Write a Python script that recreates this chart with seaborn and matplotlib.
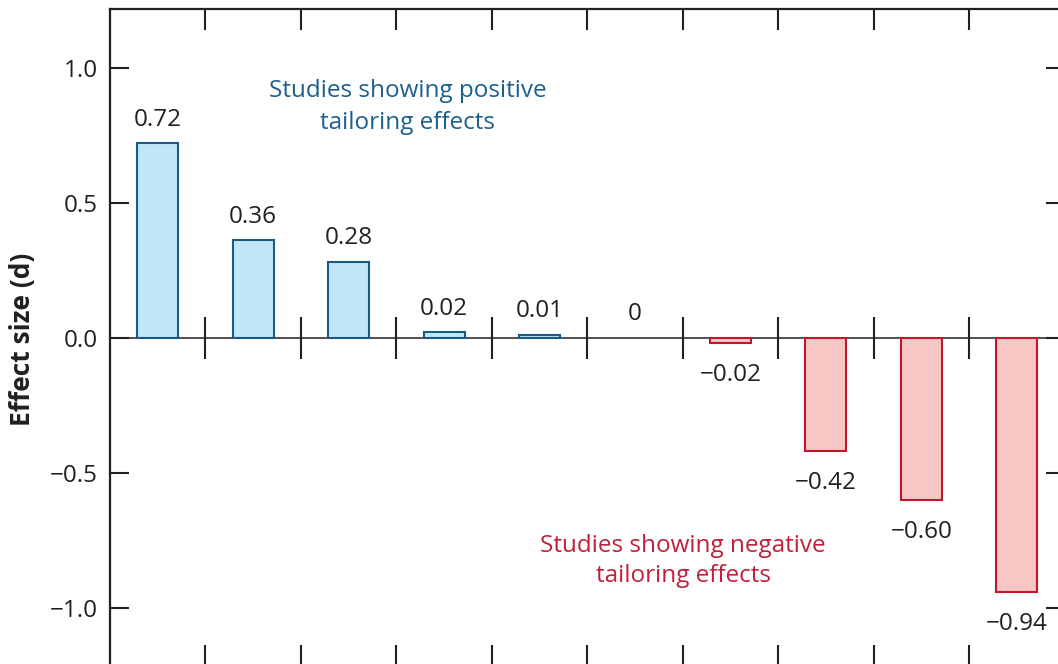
import matplotlib
matplotlib.use("Agg")
import matplotlib.pyplot as plt
import seaborn as sns
import numpy as np
import pandas as pd

# Effect sizes (one bar per study)
studies = ["S1", "S2", "S3", "S4", "S5", "S6", "S7", "S8", "S9", "S10"]
effects = [0.72, 0.36, 0.28, 0.02, 0.01, 0.0, -0.02, -0.42, -0.60, -0.94]
value_labels = ["0.72", "0.36", "0.28", "0.02", "0.01", "0",
                "\u22120.02", "\u22120.42", "\u22120.60", "\u22120.94"]
ytick_vals = [-1.0, -0.5, 0.0, 0.5, 1.0]
ytick_labels = ["\u22121.0", "\u22120.5", "0.0", "0.5", "1.0"]

sns.set_style("ticks")
plt.rcParams["font.family"] = ["Open Sans", "DejaVu Sans"]

dark = "#231f20"
blue_edge, blue_fill, blue_text = "#1a5b82", "#c2e6f7", "#1d5f8c"
red_edge, red_fill, red_text = "#c0172e", "#f6c7c5", "#c11f3a"
fs = 17.5

df = pd.DataFrame({"study": studies, "effect": effects})
df["sign"] = np.where(df["effect"] >= 0, "pos", "neg")

fig = plt.figure(figsize=(10.58, 6.64), dpi=100)
ax = fig.add_axes([0.104, -0.003, 0.9022, 0.9887])

sns.barplot(data=df, x="study", y="effect", hue="sign",
            palette={"pos": blue_fill, "neg": red_fill},
            width=0.43, legend=False, ax=ax, saturation=1)

for patch, val in zip(ax.patches, df["effect"]):
    patch.set_edgecolor(blue_edge if val >= 0 else red_edge)
    patch.set_linewidth(1.5 if val != 0 else 0)

ylo, yhi = -1.215, 1.215
ax.set_ylim(ylo, yhi)
ax.set_xlim(-0.5, len(studies) - 0.5)

# value labels
for i, (val, lab) in enumerate(zip(effects, value_labels)):
    off = 17 if val >= 0 else -23
    ax.annotate(lab, (i, val), xytext=(0, off), textcoords="offset points",
                ha="center", va="center", fontsize=fs, color=dark)

# group annotations
ax.text(2.617, 0.854, "Studies showing positive\ntailoring effects",
        ha="center", va="center", fontsize=fs, color=blue_text, linespacing=1.42)
ax.text(5.503, -0.826, "Studies showing negative\ntailoring effects",
        ha="center", va="center", fontsize=fs, color=red_text, linespacing=1.35)

# axes styling
bounds = np.arange(0.5, len(studies) - 0.5, 1.0)
ax.set_xticks(bounds)
ax.set_xticklabels([])
ax.tick_params(axis="x", top=True, bottom=True, direction="in", length=15,
               width=1.5, color=dark, labelbottom=False)
ax.set_yticks(ytick_vals)
ax.set_yticklabels(ytick_labels)
ax.tick_params(axis="y", left=True, right=True, direction="in", length=14,
               width=1.5, color=dark, labelsize=fs, labelcolor=dark, pad=9)
for sp in ax.spines.values():
    sp.set_visible(True)
    sp.set_linewidth(1.6)
    sp.set_color(dark)
ax.set_xlabel("")
ax.set_ylabel("")

# zero line with crossing ticks
zero_frac = (0 - ylo) / (yhi - ylo)
sec = ax.secondary_xaxis(zero_frac)
sec.set_xticks(bounds)
sec.set_xticklabels([])
sec.tick_params(direction="inout", length=30, width=1.5, color=dark)
for sp in sec.spines.values():
    sp.set_linewidth(1.1)
    sp.set_color(dark)

fig.text(23 / 1058, 1 - 339 / 664, "Effect size (d)", rotation=90,
         ha="center", va="center", fontsize=19, fontweight="bold", color=dark)

fig.savefig("out.png", dpi=100)
plt.close(fig)
